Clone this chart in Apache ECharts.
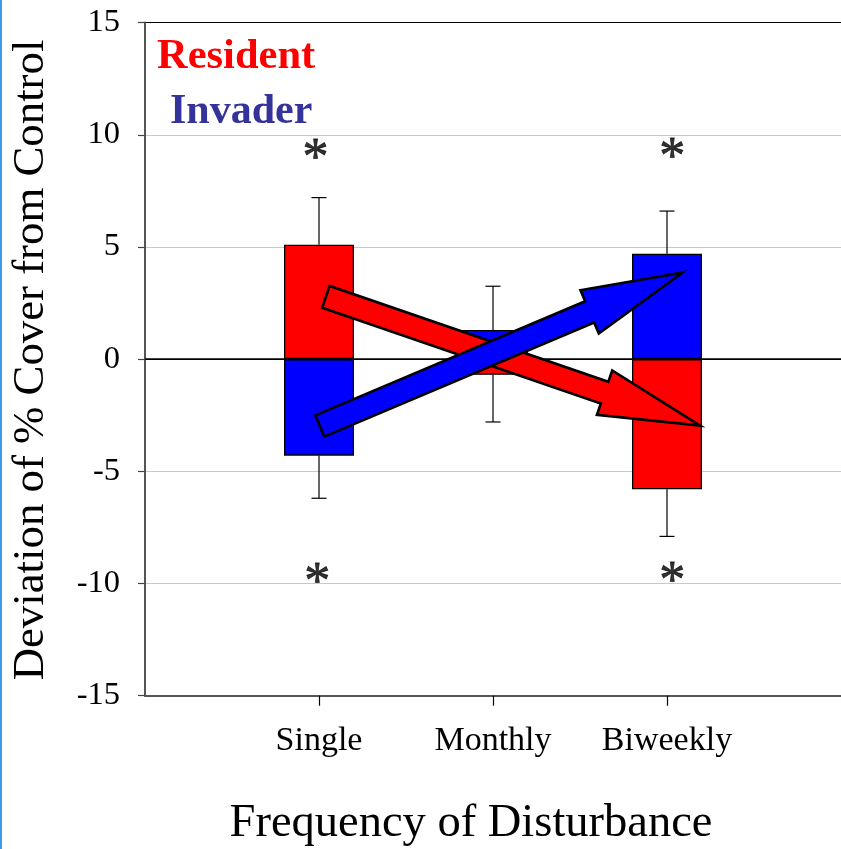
<!DOCTYPE html>
<html>
<head>
<meta charset="utf-8">
<style>
  html, body { margin: 0; padding: 0; background: #fff; }
  #chart { width: 841px; height: 849px; }
</style>
<script src="https://cdn.jsdelivr.net/npm/echarts@6/dist/echarts.min.js"></script>
</head>
<body>
<div id="chart"></div>
<script>
// Disturbance frequency treatments and their positions on the x axis
const categories = ['Single', 'Monthly', 'Biweekly'];
const catPos = [1, 2, 3];

// Deviation of % cover from control (mean) and standard error
const resident = [5.1, -0.7, -5.8];
const residentErr = [2.1, 2.1, 2.1];
const invader = [-4.3, 1.3, 4.7];
const invaderErr = [1.9, 1.95, 1.9];

// Y axis range and ticks
const yMin = -15, yMax = 15, yStep = 5;

// Significance markers: [x, y]
const sigMarks = [[0.98, 9.4], [0.99, -9.5], [3.03, 9.45], [3.03, -9.45]];

// Trend arrows: [xStart, yStart, xEnd, yEnd]
const residentTrend = [1.04, 2.78, 3.19, -2.96];
const invaderTrend = [1.005, -2.98, 3.09, 3.86];

const SERIF = '"Liberation Serif", "Times New Roman", serif';
const RED = '#ff0000';
const BLUE = '#0000ff';

function barData(vals) { return vals.map((v, i) => [catPos[i], v]); }
function errData(vals, errs) { return vals.map((v, i) => [catPos[i], v, errs[i]]); }

// Error bar: stem from the bar end outward plus a horizontal cap
function renderErr(params, api) {
  const x = api.value(0), v = api.value(1), e = api.value(2);
  const end = v + (v >= 0 ? e : -e);
  const p0 = api.coord([x, v]);
  const p1 = api.coord([x, end]);
  const cap = 7.5;
  const style = { stroke: '#000', lineWidth: 1.2 };
  return {
    type: 'group',
    children: [
      { type: 'line', shape: { x1: p0[0], y1: p0[1], x2: p1[0], y2: p1[1] }, style },
      { type: 'line', shape: { x1: p1[0] - cap, y1: p1[1], x2: p1[0] + cap, y2: p1[1] }, style }
    ]
  };
}

// Block arrow between two data points
function arrowRenderer(color) {
  return function (params, api) {
    const p0 = api.coord([api.value(0), api.value(1)]);
    const p1 = api.coord([api.value(2), api.value(3)]);
    const dx = p1[0] - p0[0], dy = p1[1] - p0[1];
    const len = Math.sqrt(dx * dx + dy * dy);
    const ux = dx / len, uy = dy / len;
    const nx = -uy, ny = ux;
    const hw = 11.5, hh = 23.5, hl = 101;
    const bx = p1[0] - ux * hl, by = p1[1] - uy * hl;
    const pts = [
      [p0[0] + nx * hw, p0[1] + ny * hw],
      [bx + nx * hw, by + ny * hw],
      [bx + nx * hh, by + ny * hh],
      [p1[0], p1[1]],
      [bx - nx * hh, by - ny * hh],
      [bx - nx * hw, by - ny * hw],
      [p0[0] - nx * hw, p0[1] - ny * hw]
    ];
    return {
      type: 'polygon',
      shape: { points: pts },
      style: { fill: color, stroke: '#000', lineWidth: 2.6, lineJoin: 'miter' }
    };
  };
}

const chart = echarts.init(document.getElementById('chart'), null, { renderer: 'canvas' });

chart.setOption({
  animation: false,
  backgroundColor: '#fff',
  grid: { left: 145, top: 22.6, width: 698.6, height: 673.1 },
  xAxis: {
    type: 'value',
    min: 0, max: 4, interval: 1,
    position: 'bottom',
    axisLine: { onZero: false, lineStyle: { color: '#555', width: 2 } },
    axisTick: { show: true, customValues: catPos, length: 10, lineStyle: { color: '#000', width: 1.2 } },
    axisLabel: {
      customValues: catPos,
      formatter: v => categories[catPos.indexOf(v)] || '',
      fontFamily: SERIF, fontSize: 34, color: '#000', margin: 28
    },
    splitLine: { show: false }
  },
  yAxis: {
    type: 'value',
    min: yMin, max: yMax, interval: yStep,
    axisLine: { show: true, lineStyle: { color: '#555', width: 2 } },
    axisTick: { show: true, length: 7, lineStyle: { color: '#444', width: 1.2 } },
    axisLabel: { fontFamily: SERIF, fontSize: 32.5, color: '#000', margin: 25, padding: [4, 0, 0, 0] },
    splitLine: {
      show: true,
      lineStyle: { color: ['#555', '#c8c8c8', '#c8c8c8', '#000', '#c8c8c8', '#c8c8c8', '#000'], width: 1.2 }
    }
  },
  graphic: [
    { type: 'rect', left: 0, top: 0, shape: { width: 2, height: 849 }, style: { fill: '#3d9bf0' }, z: 10 },
    {
      type: 'text', x: 31, y: 360, rotation: Math.PI / 2,
      style: { text: 'Deviation of % Cover from Control', font: '44.8px ' + SERIF, fill: '#000', align: 'center', verticalAlign: 'middle' }
    },
    {
      type: 'text', x: 471, y: 824,
      style: { text: 'Frequency of Disturbance', font: '46.5px ' + SERIF, fill: '#000', align: 'center', verticalAlign: 'middle' }
    },
    {
      type: 'text', x: 157, y: 57,
      style: { text: 'Resident', font: 'bold 42.5px ' + SERIF, fill: RED, align: 'left', verticalAlign: 'middle' }, z: 20
    },
    {
      type: 'text', x: 170, y: 112,
      style: { text: 'Invader', font: 'bold 42px ' + SERIF, fill: '#333399', align: 'left', verticalAlign: 'middle' }, z: 20
    }
  ],
  series: [
    {
      name: 'Resident', type: 'bar', barWidth: 70, barGap: '-100%', z: 2,
      itemStyle: { color: RED, borderColor: '#000', borderWidth: 1.3 },
      data: barData(resident),
      markLine: {
        silent: true, symbol: 'none', label: { show: false },
        lineStyle: { color: '#000', width: 1.5, type: 'solid' },
        data: [{ yAxis: 0 }]
      }
    },
    {
      name: 'Invader', type: 'bar', barWidth: 70, barGap: '-100%', z: 2,
      itemStyle: { color: BLUE, borderColor: '#000', borderWidth: 1.3 },
      data: barData(invader)
    },
    { name: 'Resident SE', type: 'custom', z: 3, renderItem: renderErr, data: errData(resident, residentErr), encode: { x: 0, y: 1 } },
    { name: 'Invader SE', type: 'custom', z: 3, renderItem: renderErr, data: errData(invader, invaderErr), encode: { x: 0, y: 1 } },
    {
      name: 'Significance', type: 'scatter', symbolSize: 0, z: 6,
      data: sigMarks,
      label: {
        show: true, position: 'inside', formatter: '*', fontFamily: SERIF, fontSize: 52,
        color: '#000', textBorderColor: '#000', textBorderWidth: 0.8, offset: [0, 12]
      }
    },
    { name: 'Resident trend', type: 'custom', z: 7, renderItem: arrowRenderer(RED), data: [residentTrend], encode: { x: [0, 2], y: [1, 3] } },
    { name: 'Invader trend', type: 'custom', z: 8, renderItem: arrowRenderer(BLUE), data: [invaderTrend], encode: { x: [0, 2], y: [1, 3] } }
  ]
});
</script>
</body>
</html>
